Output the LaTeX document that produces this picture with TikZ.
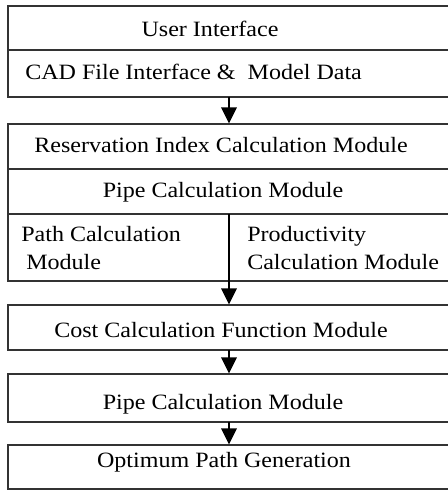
\documentclass[tikz,border=0pt]{standalone}
\usepackage{fontspec}
\setmainfont{Liberation Serif}[FakeStretch=1.1]
\usetikzlibrary{arrows.meta}
\tikzset{
  box/.style={draw=black!80, line width=1.1pt, fill=white, inner sep=0pt, outer sep=0pt,
              anchor=north west, minimum width=342pt},
  sep/.style={draw=black!80, line width=1.1pt},
  arr/.style={draw=black, line width=1.5pt, -{Triangle[width=11.5pt,length=12pt]}, shorten >=0.4pt},
  lbl/.style={inner sep=0pt, font=\fontsize{16.4}{19}\selectfont},
}
\begin{document}
\begin{tikzpicture}[x=0.75pt,y=-0.75pt]
\useasboundingbox (0,0) rectangle (448,491);
\clip (0,0) rectangle (448,491);
% boxes
\node[box, minimum height=68.25pt]  (b1) at (8,6)   {};
\node[box, minimum height=117.75pt] (b2) at (8,124) {};
\node[box, minimum height=33.75pt]  (b3) at (8,305) {};
\node[box, minimum height=36pt]     (b4) at (8,374) {};
\node[box, minimum height=33pt]     (b5) at (8,445) {};
% column of arrows
\coordinate (ax) at (229,0);
\coordinate (d1) at (8,50);
\coordinate (d2) at (8,169);
\coordinate (d3) at (8,214);
% separators
\draw[sep] (d1) -- (d1 -| b1.east);
\draw[sep] (d2) -- (d2 -| b2.east);
\draw[sep] (d3) -- (d3 -| b2.east);
% connectors
\draw[arr] (b1.south -| ax) -- (b2.north -| ax);
\draw[arr] (d3 -| ax) -- (b3.north -| ax);
\draw[arr] (b3.south -| ax) -- (b4.north -| ax);
\draw[arr] (b4.south -| ax) -- (b5.north -| ax);
% texts
\node[lbl, anchor=base] (t1) at (210,36.5) {User Interface};
\node[lbl, anchor=base west] (t2) at (25,80) {CAD File Interface \&\ \ Model Data};
\node[lbl, anchor=base] (t3) at (221,153) {Reservation Index Calculation Module};
\node[lbl, anchor=base] (t4) at (223,197.5) {Pipe Calculation Module};
\node[lbl, anchor=base west] (t5) at (21,241.5) {Path Calculation};
\node[lbl, anchor=base west] (t6) at (26,269.5) {Module};
\node[lbl, anchor=base west] (t7) at (247,241.5) {Productivity};
\node[lbl, anchor=base west] (t8) at (247,269.5) {Calculation Module};
\node[lbl, anchor=base] (t9) at (221,337.5) {Cost Calculation Function Module};
\node[lbl, anchor=base] (t10) at (223,409) {Pipe Calculation Module};
\node[lbl, anchor=base] (t11) at (224,467.5) {Optimum Path Generation};
\end{tikzpicture}
\end{document}
